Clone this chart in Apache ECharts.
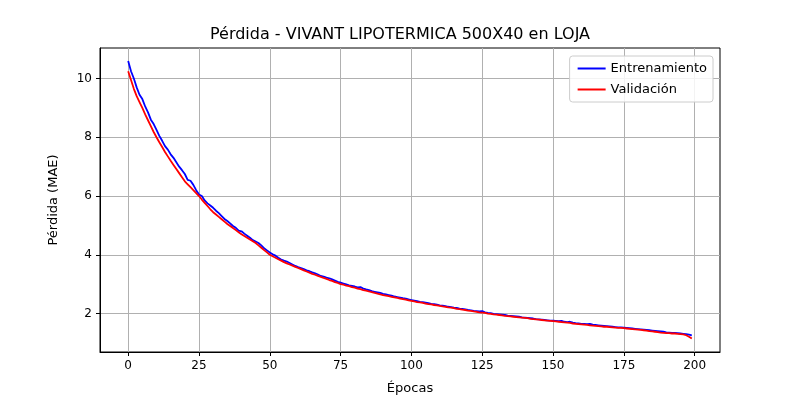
<!DOCTYPE html>
<html><head><meta charset="utf-8">
<script src="https://cdn.jsdelivr.net/npm/echarts@6/dist/echarts.min.js"></script>
<style>html,body{margin:0;background:#fff}#c{width:800px;height:400px}</style>
</head><body><div id="c"></div>
<script>
var xTicks = [0, 25, 50, 75, 100, 125, 150, 175, 200];
var yTicks = [2, 4, 6, 8, 10];
var train = [10.6,10.25,10.0,9.7,9.45, 9.3,9.05,8.85,8.6,8.45, 8.25,8.05,7.88,7.7,7.58, 7.42,7.3,7.15,7.0,6.88,
  6.75,6.55,6.52,6.38,6.2, 6.05,6.0,5.85,5.75,5.68, 5.6,5.5,5.42,5.32,5.22, 5.15,5.07,4.98,4.92,4.82,
  4.8,4.72,4.65,4.58,4.5, 4.45,4.4,4.32,4.22,4.15, 4.08,4.02,3.97,3.9,3.84, 3.8,3.77,3.72,3.67,3.62,
  3.58,3.55,3.51,3.47,3.44, 3.4,3.37,3.33,3.28,3.26, 3.22,3.2,3.16,3.12,3.08, 3.05,3.02,2.99,2.96,2.94,
  2.92,2.89,2.9,2.85,2.82, 2.8,2.76,2.74,2.72,2.7, 2.67,2.65,2.63,2.61,2.58, 2.56,2.54,2.52,2.51,2.48,
  2.46,2.44,2.42,2.4,2.39, 2.37,2.35,2.33,2.32,2.3, 2.28,2.27,2.25,2.23,2.22, 2.2,2.19,2.17,2.16,2.14,
  2.12,2.11,2.09,2.08,2.07, 2.08,2.04,2.02,2.01,1.99, 1.98,1.97,1.96,1.95,1.93, 1.92,1.91,1.9,1.89,1.87,
  1.86,1.85,1.84,1.83,1.81, 1.8,1.79,1.78,1.77,1.76, 1.76,1.75,1.74,1.75,1.72, 1.71,1.72,1.69,1.67,1.66,
  1.65,1.65,1.64,1.65,1.62, 1.61,1.6,1.59,1.58,1.57, 1.56,1.55,1.54,1.53,1.53, 1.52,1.51,1.5,1.49,1.48,
  1.47,1.46,1.45,1.44,1.43, 1.42,1.41,1.4,1.39,1.38, 1.36,1.35,1.34,1.34,1.33, 1.32,1.31,1.3,1.28,1.26];
var valid = [10.25,9.95,9.65,9.4,9.2, 9.0,8.78,8.58,8.38,8.18, 8.0,7.83,7.67,7.5,7.35, 7.2,7.06,6.92,6.78,6.64,
  6.5,6.4,6.3,6.2,6.1, 6.0,5.88,5.77,5.66,5.55, 5.45,5.37,5.29,5.21,5.13, 5.05,4.98,4.91,4.84,4.77,
  4.7,4.64,4.58,4.52,4.46, 4.4,4.32,4.24,4.16,4.08, 4.0,3.95,3.9,3.85,3.8, 3.75,3.71,3.67,3.63,3.59,
  3.55,3.51,3.47,3.43,3.39, 3.35,3.32,3.28,3.25,3.21, 3.18,3.14,3.11,3.07,3.04, 3.0,2.98,2.95,2.93,2.9,
  2.88,2.85,2.83,2.8,2.78, 2.75,2.73,2.7,2.68,2.65, 2.63,2.61,2.59,2.57,2.55, 2.53,2.51,2.49,2.47,2.45,
  2.43,2.41,2.39,2.38,2.36, 2.34,2.32,2.31,2.29,2.28, 2.26,2.24,2.23,2.21,2.2, 2.18,2.16,2.15,2.13,2.12,
  2.1,2.09,2.07,2.06,2.04, 2.03,2.02,2.0,1.99,1.97, 1.96,1.95,1.94,1.92,1.91, 1.9,1.89,1.88,1.87,1.86,
  1.85,1.84,1.82,1.81,1.8, 1.79,1.78,1.77,1.76,1.75, 1.74,1.73,1.72,1.71,1.7, 1.69,1.68,1.66,1.65,1.64,
  1.63,1.62,1.61,1.6,1.59, 1.58,1.57,1.56,1.55,1.55, 1.54,1.53,1.52,1.51,1.51, 1.5,1.49,1.48,1.47,1.46,
  1.45,1.44,1.43,1.42,1.4, 1.39,1.38,1.37,1.35,1.34, 1.33,1.33,1.32,1.32,1.31, 1.3,1.29,1.26,1.21,1.15];

function pairs(arr) { return arr.map(function (v, i) { return [i, v]; }); }

var chart = echarts.init(document.getElementById('c'));
var font = 'DejaVu Sans, sans-serif';
chart.setOption({
  animation: false,
  textStyle: { fontFamily: font },
  title: { text: 'Pérdida - VIVANT LIPOTERMICA 500X40 en LOJA', left: 'center', top: 22,
    textStyle: { fontSize: 16, fontWeight: 'normal', color: '#000', fontFamily: font } },
  legend: { right: 87, top: 56, orient: 'vertical', itemWidth: 28, itemHeight: 2, itemGap: 8,
    borderColor: '#ccc', borderWidth: 1, borderRadius: 3, padding: [6, 6, 6, 8],
    backgroundColor: 'rgba(255,255,255,0.85)',
    textStyle: { fontSize: 13, color: '#000', fontFamily: font }, icon: 'rect',
    data: ['Entrenamiento', 'Validación'] },
  grid: { left: 100, right: 80, top: 48, bottom: 44, show: true, borderColor: '#000', borderWidth: 1 },
  xAxis: { type: 'value', min: -9.95, max: 208.95,
    name: 'Épocas', nameLocation: 'middle', nameGap: 30, nameTextStyle: { fontSize: 13, color: '#000' },
    axisLine: { onZero: false, lineStyle: { color: '#000' } },
    axisTick: { customValues: xTicks, length: 4, lineStyle: { color: '#000' } },
    axisLabel: { customValues: xTicks, fontSize: 12, color: '#000', margin: 8 },
    splitLine: { show: true, lineStyle: { color: '#b0b0b0', width: 1 } } },
  yAxis: { type: 'value', min: 0.69, max: 11.04,
    name: 'Pérdida (MAE)', nameLocation: 'middle', nameGap: 40, nameTextStyle: { fontSize: 13, color: '#000' },
    axisLine: { show: true, onZero: false, lineStyle: { color: '#000' } },
    axisTick: { show: true, customValues: yTicks, length: 4, lineStyle: { color: '#000' } },
    axisLabel: { customValues: yTicks, fontSize: 12, color: '#000', margin: 8 },
    splitLine: { show: true, lineStyle: { color: '#b0b0b0', width: 1 } } },
  series: [
    { name: 'Entrenamiento', type: 'line', data: pairs(train), showSymbol: false, symbol: 'none',
      lineStyle: { color: '#0000ff', width: 1.8 }, itemStyle: { color: '#0000ff' } },
    { name: 'Validación', type: 'line', data: pairs(valid), showSymbol: false, symbol: 'none',
      lineStyle: { color: '#ff0000', width: 1.8 }, itemStyle: { color: '#ff0000' } }
  ]
});
</script></body></html>
